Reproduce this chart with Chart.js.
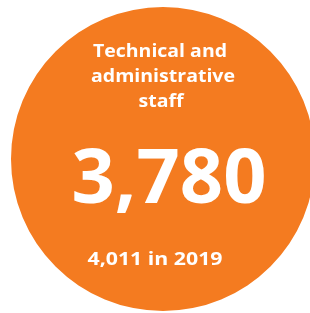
<!DOCTYPE html>
<html>
<head>
<meta charset="utf-8">
<script src="https://cdn.jsdelivr.net/npm/chart.js@4"></script>
<style>
html,body{margin:0;padding:0;background:#fff;overflow:hidden;}
#wrap{position:absolute;left:0;top:0;width:320px;height:313px;}
</style>
</head>
<body>
<div id="wrap"><canvas id="c" width="320" height="313"></canvas></div>
<script>
const categories = ["Technical and administrative staff"];
const values = [3780];
const titleLines = ["Technical and", "administrative", "staff"];
const mainLabel = ["3,780"];
const compareLabel = ["4,011 in 2019"];
const colors = ["#F47B20"];

function fitText(ctx, text, x, y, width) {
  const w = ctx.measureText(text).width;
  ctx.save();
  ctx.translate(x, y);
  ctx.scale(width / w, 1);
  ctx.fillText(text, 0, 0);
  ctx.restore();
}

const textPlugin = {
  id: 'centerText',
  afterDatasetsDraw(chart) {
    const arc = chart.getDatasetMeta(0).data[0];
    const cx = arc.x, cy = arc.y;
    const ctx = chart.ctx;
    ctx.save();
    ctx.fillStyle = '#ffffff';
    ctx.textAlign = 'center';
    ctx.textBaseline = 'alphabetic';
    ctx.font = 'bold 18px "Open Sans"';
    const offs = [-3, 0, -2];
    const widths = [134, 144, 45];
    titleLines.forEach((t, i) => {
      fitText(ctx, t, cx + offs[i], cy - 102 + i * 25, widths[i]);
    });
    ctx.font = 'bold 76px "Open Sans"';
    fitText(ctx, mainLabel[0], cx + 6, cy + 44, 195);
    ctx.font = 'bold 18px "Open Sans"';
    fitText(ctx, compareLabel[0], cx - 8, cy + 106, 135);
    ctx.restore();
  }
};

new Chart(document.getElementById('c'), {
  type: 'pie',
  data: {
    labels: categories,
    datasets: [{ data: values, backgroundColor: colors, borderWidth: 0 }]
  },
  options: {
    responsive: false,
    animation: false,
    layout: { padding: { left: 11, top: 7, right: 5, bottom: 2 } },
    plugins: { legend: { display: false }, tooltip: { enabled: false } }
  },
  plugins: [textPlugin]
});
</script>
</body>
</html>
